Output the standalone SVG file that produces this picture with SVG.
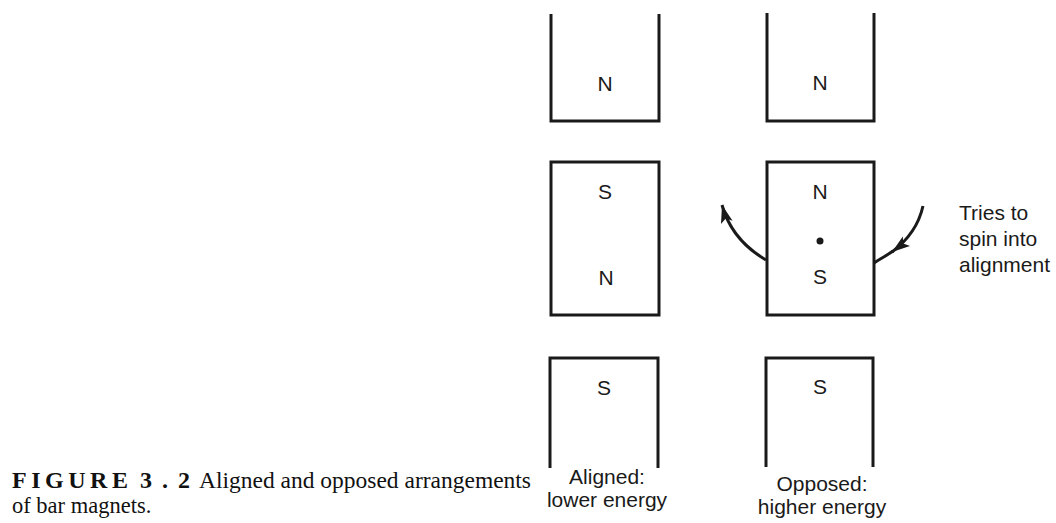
<svg xmlns="http://www.w3.org/2000/svg" width="1056" height="523" viewBox="0 0 1056 523">
<style>
.mag{fill:none;stroke:#1a1a1a;stroke-width:3;stroke-linejoin:miter;stroke-linecap:butt}
.lbl{font-family:"Liberation Sans",Arial,sans-serif;font-size:21px;fill:#1a1a1a;text-anchor:middle}
.side{font-family:"Liberation Sans",Arial,sans-serif;font-size:21px;fill:#1a1a1a}
.cap{font-family:"Liberation Serif","Times New Roman",serif;font-size:22.5px;fill:#111}
.capb{font-family:"Liberation Serif","Times New Roman",serif;font-size:24px;font-weight:bold;fill:#111}
.arr{fill:none;stroke:#1a1a1a;stroke-width:3}
</style>
<defs>
<marker id="ah" markerUnits="userSpaceOnUse" markerWidth="20" markerHeight="14" refX="18" refY="7" orient="auto">
<path d="M0,1 L18,7 L0,13 L4,7 Z" fill="#1a1a1a"/>
</marker>
</defs>
<rect width="1056" height="523" fill="#fff"/>

<g id="aligned-top">
<path class="mag" d="M551,14 V121 H659 V14"/>
<text class="lbl" x="605" y="91">N</text>
</g>
<g id="aligned-middle">
<rect class="mag" x="551" y="162" width="108" height="153"/>
<text class="lbl" x="605" y="199">S</text>
<text class="lbl" x="606" y="285">N</text>
</g>
<g id="aligned-bottom">
<path class="mag" d="M550,468 V358 H658 V468"/>
<text class="lbl" x="604" y="395">S</text>
<text class="lbl" x="607" y="484">Aligned:</text>
<text class="lbl" x="607" y="507">lower energy</text>
</g>

<g id="opposed-top">
<path class="mag" d="M767,13 V121 H874 V13"/>
<text class="lbl" x="820" y="90">N</text>
</g>
<g id="opposed-middle">
<rect class="mag" x="767" y="162" width="107" height="153"/>
<text class="lbl" x="820" y="199">N</text>
<circle cx="820" cy="241" r="3.5" fill="#1a1a1a"/>
<text class="lbl" x="820" y="284">S</text>
</g>
<g id="opposed-bottom">
<path class="mag" d="M766,467 V358 H873 V467"/>
<text class="lbl" x="820" y="394">S</text>
<text class="lbl" x="822" y="491">Opposed:</text>
<text class="lbl" x="822" y="514">higher energy</text>
</g>

<g id="connectors">
<path class="arr" d="M766,260 C749,250 730,234 722,205" marker-end="url(#ah)"/>
<path class="arr" d="M923,206 C919,224 908,240 892,252" marker-end="url(#ah)"/>
<path class="arr" d="M893,251 C886,256 880,259 874,263"/>
</g>

<g id="note">
<text class="side" x="959" y="220">Tries to</text>
<text class="side" x="959" y="246">spin into</text>
<text class="side" x="959" y="272">alignment</text>
</g>

<g id="caption">
<text class="capb" x="12" y="488" textLength="116" lengthAdjust="spacing">FIGURE</text>
<text class="capb" x="140" y="488" textLength="50" lengthAdjust="spacing">3.2</text>
<text class="cap" x="199" y="488" textLength="332" lengthAdjust="spacingAndGlyphs">Aligned and opposed arrangements</text>
<text class="cap" x="12" y="513">of bar magnets.</text>
</g>
</svg>
